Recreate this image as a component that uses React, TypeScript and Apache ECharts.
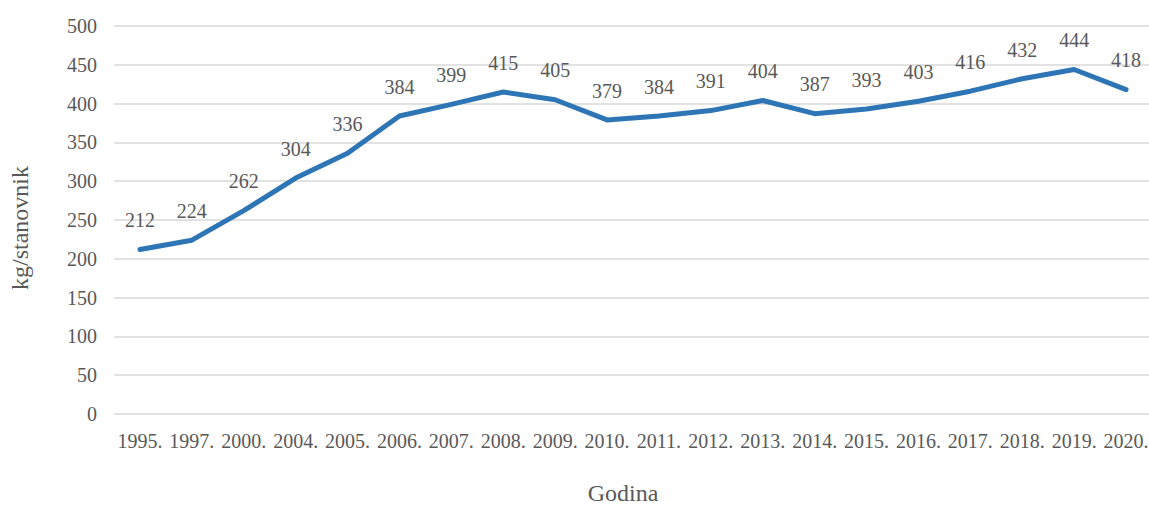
import React, { useEffect, useRef } from "react";
import * as echarts from "echarts";

const years = ["1995.", "1997.", "2000.", "2004.", "2005.", "2006.", "2007.", "2008.", "2009.", "2010.", "2011.", "2012.", "2013.", "2014.", "2015.", "2016.", "2017.", "2018.", "2019.", "2020."];
const values = [212, 224, 262, 304, 336, 384, 399, 415, 405, 379, 384, 391, 404, 387, 393, 403, 416, 432, 444, 418];
const yAxisTitle = "kg/stanovnik";
const xAxisTitle = "Godina";

const FONT = "'Liberation Serif', 'Times New Roman', serif";
const TEXT = "#595959";

export default function App() {
  const ref = useRef<HTMLDivElement>(null);
  useEffect(() => {
    if (!ref.current) return;
    const chart = echarts.init(ref.current, null, { renderer: "svg", width: 1149, height: 505 });
    chart.setOption({
      animation: false,
      backgroundColor: "#ffffff",
      grid: { left: 114, right: -3, top: 26, bottom: 91, outerBoundsMode: "none", containLabel: false },
      xAxis: {
        type: "category",
        data: years,
        boundaryGap: true,
        axisLine: { show: false },
        axisTick: { show: false },
        axisLabel: { color: TEXT, fontFamily: FONT, fontSize: 20, margin: 17, interval: 0 },
        name: xAxisTitle,
        nameLocation: "middle",
        nameGap: 69,
        nameTextStyle: { color: TEXT, fontFamily: FONT, fontSize: 24, lineHeight: 20, padding: [0, 20, 0, 0] },
      },
      yAxis: {
        type: "value",
        min: 0,
        max: 500,
        interval: 50,
        axisLine: { show: false },
        axisTick: { show: false },
        axisLabel: { color: TEXT, fontFamily: FONT, fontSize: 20, margin: 17 },
        splitLine: { lineStyle: { color: "#d9d9d9", width: 1.5 } },
        name: yAxisTitle,
        nameLocation: "middle",
        nameGap: 82,
        nameRotate: 90,
        nameTextStyle: { color: TEXT, fontFamily: FONT, fontSize: 24, padding: [0, 16, 0, 0] },
      },
      series: [
        {
          type: "line",
          data: values,
          symbol: "circle",
          symbolSize: 0.5,
          showSymbol: true,
          itemStyle: { color: "#2E75B6" },
          lineStyle: { color: "#2E75B6", width: 5, cap: "round", join: "round" },
          label: {
            show: true,
            position: "top",
            distance: 19,
            color: TEXT,
            fontFamily: FONT,
            fontSize: 20,
          },
        },
      ],
    });
    return () => chart.dispose();
  }, []);
  return (
    <div
      ref={ref}
      style={{ position: "absolute", left: 0, top: 0, width: 1149, height: 505, overflow: "hidden" }}
    />
  );
}
